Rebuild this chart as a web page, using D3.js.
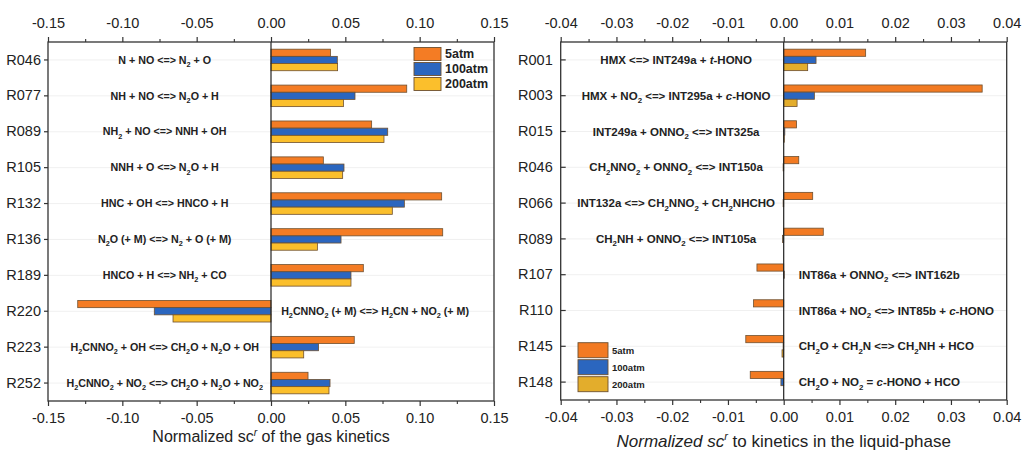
<!DOCTYPE html>
<html>
<head>
<meta charset="utf-8">
<script src="https://cdn.jsdelivr.net/npm/d3@7"></script>
<style>
  body { margin: 0; background: #fff; }
  text { font-family: "Liberation Sans", Arial, sans-serif; fill: #222; }
</style>
</head>
<body>
<svg id="chart"></svg>
<script>
// ---- data ----
const series = ["5atm", "100atm", "200atm"];

const gasCats = ["R046", "R077", "R089", "R105", "R132", "R136", "R189", "R220", "R223", "R252"];
const gasLabels = [
	"N + NO <=> N_{2} + O",
	"NH + NO <=> N_{2}O + H",
	"NH_{2} + NO <=> NNH + OH",
	"NNH + O <=> N_{2}O + H",
	"HNC + OH <=> HNCO + H",
	"N_{2}O (+ M) <=> N_{2} + O (+ M)",
	"HNCO + H <=> NH_{2} + CO",
	"H_{2}CNNO_{2} (+ M) <=> H_{2}CN + NO_{2} (+ M)",
	"H_{2}CNNO_{2} + OH <=> CH_{2}O + N_{2}O + OH",
	"H_{2}CNNO_{2} + NO_{2} <=> CH_{2}O + N_{2}O + NO_{2}"
];
const gasLabelRight = ["R220"];
const gas5   = [0.040, 0.0913, 0.0677, 0.0352, 0.1148, 0.1155, 0.0621, -0.1300, 0.0560, 0.0249];
const gas100 = [0.0446, 0.0565, 0.0785, 0.0491, 0.0897, 0.0471, 0.0538, -0.0785, 0.0320, 0.0397];
const gas200 = [0.0448, 0.0487, 0.0760, 0.0482, 0.0816, 0.0312, 0.0538, -0.0659, 0.0220, 0.0390];
const gasTicks = [-0.15, -0.10, -0.05, 0.00, 0.05, 0.10, 0.15];
const gasMinor = [-0.125, -0.075, -0.025, 0.025, 0.075, 0.125];

const liqCats = ["R001", "R003", "R015", "R046", "R066", "R089", "R107", "R110", "R145", "R148"];
const liqLabels = [
	"HMX <=> INT249a + *t*-HONO",
	"HMX + NO_{2} <=> INT295a + *c*-HONO",
	"INT249a + ONNO_{2} <=> INT325a",
	"CH_{2}NNO_{2} + ONNO_{2} <=> INT150a",
	"INT132a <=> CH_{2}NNO_{2} + CH_{2}NHCHO",
	"CH_{2}NH + ONNO_{2} <=> INT105a",
	"INT86a + ONNO_{2} <=> INT162b",
	"INT86a + NO_{2} <=> INT85b + *c*-HONO",
	"CH_{2}O + CH_{2}N <=> CH_{2}NH + HCO",
	"CH_{2}O + NO_{2} = *c*-HONO + HCO"
];
const liqLabelRight = ["R107", "R110", "R145", "R148"];
const liq5   = [0.0147, 0.0356, 0.0023, 0.0027, 0.0052, 0.0071, -0.0048, -0.0054, -0.0068, -0.0060];
const liq100 = [0.0058, 0.0055, 0.0002, -0.0001, -0.0001, -0.0002, 0.0001, 0.0000, -0.0001, -0.0005];
const liq200 = [0.0043, 0.0024, 0.0001, 0.0000, 0.0000, 0.0000, 0.0000, 0.0000, -0.0003, 0.0000];
const liqTicks = [-0.04, -0.03, -0.02, -0.01, 0.00, 0.01, 0.02, 0.03, 0.04];
const liqMinor = [-0.035, -0.025, -0.015, -0.005, 0.005, 0.015, 0.025, 0.035];

// ---- setup ----
const svg = d3.select("#chart").attr("width", 1023).attr("height", 457);

// writes "A_{2}" as subscript and "*t*" as italic into a text element
function richText(text, str, size){
	const parts = str.split(/(_\{[^}]*\}|\*[^*]*\*)/).filter(p => p.length);
	let shifted = false;
	parts.forEach(p => {
		let t;
		if(p.startsWith("_{")){
			t = text.append("tspan").text(p.slice(2, -1))
				.attr("font-size", size * 0.68)
				.attr("dy", size * 0.3);
			shifted = true;
		}else{
			t = text.append("tspan").text(p.startsWith("*") ? p.slice(1, -1) : p);
			if(p.startsWith("*")) t.attr("font-style", "italic");
			if(shifted){ t.attr("dy", -size * 0.3); shifted = false; }
		}
	});
}

function drawPanel(o){
	const g = svg.append("g");
	const x = d3.scaleLinear().domain(o.domain).range([o.left, o.right]);
	const y = d3.scaleBand().domain(o.cats).range([o.top, o.bottom])
		.paddingInner(0.4).paddingOuter(0.2);
	const ySub = d3.scaleBand().domain(series).range([0, y.bandwidth()]);

	// faint grid at categories
	g.append("g").selectAll("line").data(o.cats).enter().append("line")
		.attr("x1", o.left).attr("x2", o.right)
		.attr("y1", d => y(d) + y.bandwidth()/2).attr("y2", d => y(d) + y.bandwidth()/2)
		.attr("stroke", "#ececec").attr("stroke-width", 0.8);

	// bars
	const data = [];
	o.cats.forEach((c, i) => series.forEach((s, j) => data.push({cat: c, s: s, v: o.values[j][i], j: j})));
	g.append("g").selectAll("rect").data(data).enter().append("rect")
		.attr("x", d => x(Math.min(0, d.v)))
		.attr("width", d => Math.abs(x(d.v) - x(0)))
		.attr("y", d => y(d.cat) + ySub(d.s))
		.attr("height", ySub.bandwidth())
		.attr("fill", d => o.colors[d.j])
		.attr("stroke", "#6e5030")
		.attr("stroke-width", 0.8);

	// zero line
	g.append("line").attr("x1", x(0)).attr("x2", x(0)).attr("y1", o.top).attr("y2", o.bottom)
		.attr("stroke", "#222").attr("stroke-width", 1.2);

	// frame
	g.append("rect").attr("x", o.left).attr("y", o.top)
		.attr("width", o.right - o.left).attr("height", o.bottom - o.top)
		.attr("fill", "none").attr("stroke", "#333").attr("stroke-width", 1.3);

	const fmt = d => d.toFixed(2);
	const axes = [
		{ax: d3.axisTop(x), ty: o.top, minor: d3.axisTop(x)},
		{ax: d3.axisBottom(x), ty: o.bottom, minor: d3.axisBottom(x)}
	];
	axes.forEach(a => {
		const ga = g.append("g").attr("transform", "translate(0," + a.ty + ")")
			.call(a.ax.tickValues(o.ticks).tickFormat(fmt).tickSize(5).tickPadding(a.ty === o.top ? 9 : 7));
		ga.select(".domain").remove();
		ga.selectAll("text").attr("font-size", 14.5).attr("fill", "#222");
		ga.selectAll("line").attr("stroke", "#333").attr("stroke-width", 1.2);
		const gm = g.append("g").attr("transform", "translate(0," + a.ty + ")")
			.call(a.minor.tickValues(o.minor).tickFormat("").tickSize(3));
		gm.select(".domain").remove();
		gm.selectAll("line").attr("stroke", "#333").attr("stroke-width", 1.1);
	});

	// category axis
	const gy = g.append("g").attr("transform", "translate(" + o.left + ",0)")
		.call(d3.axisLeft(y).tickSize(o.yTick).tickPadding(o.yPad));
	gy.select(".domain").remove();
	gy.selectAll("text").attr("font-size", 14.5).attr("fill", "#222");
	gy.selectAll("line").attr("stroke", "#333").attr("stroke-width", 1.2);

	// reaction labels
	o.cats.forEach((c, i) => {
		const right = o.rightSide.includes(c);
		const t = g.append("text")
			.attr("x", x(right ? o.posAt : o.negAt))
			.attr("y", y(c) + y.bandwidth()/2)
			.attr("dy", "0.35em")
			.attr("text-anchor", right ? o.posAnchor : "middle")
			.attr("font-size", o.labelSize)
			.attr("font-weight", "bold")
			.attr("fill", "#222");
		richText(t, o.labels[i], o.labelSize);
	});

	// legend
	const lg = g.append("g");
	series.forEach((s, j) => {
		lg.append("rect").attr("x", o.leg.x).attr("y", o.leg.y + j * o.leg.step)
			.attr("width", o.leg.w).attr("height", o.leg.h)
			.attr("fill", o.colors[j]).attr("stroke", "#6e5030").attr("stroke-width", 0.9);
		lg.append("text").attr("x", o.leg.x + o.leg.w + 4)
			.attr("y", o.leg.y + j * o.leg.step + o.leg.h/2).attr("dy", "0.35em")
			.attr("font-size", o.leg.size).attr("font-weight", "bold").attr("fill", "#222")
			.text(s);
	});

	// axis title
	const tt = g.append("text").attr("x", (o.left + o.right)/2).attr("y", o.titleY)
		.attr("text-anchor", "middle").attr("font-size", o.titleSize).attr("fill", "#222");
	tt.append("tspan").text("Normalized sc").attr("font-style", o.titleItalic ? "italic" : null);
	tt.append("tspan").text("r").attr("font-style", "italic")
		.attr("font-size", o.titleSize * 0.65).attr("dy", -o.titleSize * 0.4);
	tt.append("tspan").text(o.titleRest).attr("dy", o.titleSize * 0.4);
}

drawPanel({
	cats: gasCats, labels: gasLabels, rightSide: gasLabelRight,
	values: [gas5, gas100, gas200], ticks: gasTicks, minor: gasMinor,
	domain: [-0.15, 0.15], left: 48, right: 494, top: 42, bottom: 401,
	colors: ["#f47c24", "#2b66bf", "#fbbf2c"],
	yTick: 4, yPad: 3,
	negAt: -0.0715, posAt: 0.07, posAnchor: "middle", labelSize: 10.7,
	leg: {x: 414, y: 47.5, w: 27, h: 13, step: 15, size: 12.5},
	titleY: 442, titleSize: 16, titleItalic: false, titleRest: " of the gas kinetics"
});

drawPanel({
	cats: liqCats, labels: liqLabels, rightSide: liqLabelRight,
	values: [liq5, liq100, liq200], ticks: liqTicks, minor: liqMinor,
	domain: [-0.04, 0.04], left: 560.7, right: 1006.7, top: 42, bottom: 400,
	colors: ["#f27a22", "#2b66bf", "#e3ad2c"],
	yTick: -5, yPad: 8,
	negAt: -0.0193, posAt: 0.0027, posAnchor: "start", labelSize: 11.5,
	leg: {x: 578, y: 342.7, w: 30, h: 15, step: 17, size: 9.5},
	titleY: 447, titleSize: 17, titleItalic: true, titleRest: " to kinetics in the liquid-phase"
});
</script>
</body>
</html>
